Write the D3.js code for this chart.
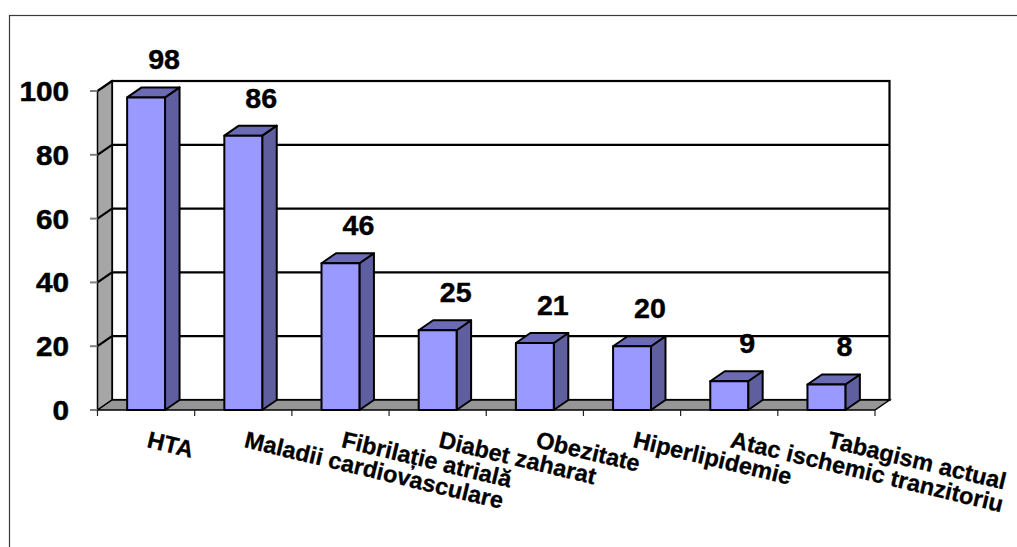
<!DOCTYPE html>
<html>
<head>
<meta charset="utf-8">
<script src="https://cdn.jsdelivr.net/npm/d3@7"></script>
<style>
  html, body { margin: 0; padding: 0; background: #fff; }
  svg { display: block; }
  text { font-family: "Liberation Sans", Arial, sans-serif; font-weight: bold; fill: #000; }
</style>
</head>
<body>
<svg id="chart" width="1017" height="547"></svg>
<script>
// Risk factors and number of patients
const categories = [
  "HTA",
  "Maladii cardiovasculare",
  "Fibrilație atrială",
  "Diabet zaharat",
  "Obezitate",
  "Hiperlipidemie",
  "Atac ischemic tranzitoriu",
  "Tabagism actual"
];
const values = [98, 86, 46, 25, 21, 20, 9, 8];
const yTicks = [0, 20, 40, 60, 80, 100];

const svg = d3.select("#chart");

// 3D projection: depth offset for walls and bars
const depthX = 14.5, depthY = -10;

const x = d3.scaleBand().domain(categories).range([97.5, 875]).paddingInner(0).paddingOuter(0);
const y = d3.scaleLinear().domain([0, 100]).range([410, 91]);

const xL = x.range()[0], xR = x.range()[1];
const y0 = y(0), yTop = y(100);

// outer frame
svg.append("rect")
  .attr("x", 9.5).attr("y", 15.5).attr("width", 1030).attr("height", 560)
  .attr("fill", "none").attr("stroke", "#3a3a3a").attr("stroke-width", 1.2);

// back wall
svg.append("rect")
  .attr("x", xL + depthX).attr("y", yTop + depthY)
  .attr("width", xR - xL).attr("height", y0 - yTop)
  .attr("fill", "#fff").attr("stroke", "#000").attr("stroke-width", 2.2);

// side wall
svg.append("polygon")
  .attr("points", [[xL, yTop], [xL + depthX, yTop + depthY], [xL + depthX, y0 + depthY], [xL, y0]].join(" "))
  .attr("fill", "#a6a6a6").attr("stroke", "#000").attr("stroke-width", 1.5);

// floor
svg.append("polygon")
  .attr("points", [[xL, y0], [xL + depthX, y0 + depthY], [xR + depthX, y0 + depthY], [xR, y0]].join(" "))
  .attr("fill", "#969696").attr("stroke", "#000").attr("stroke-width", 1.5);

// gridlines on the back and side walls
const grid = svg.append("g").attr("stroke", "#000").attr("stroke-width", 2.2).attr("fill", "none");
yTicks.filter(v => v > 0).forEach(v => {
  grid.append("line")
    .attr("x1", xL + depthX).attr("x2", xR + depthX)
    .attr("y1", y(v) + depthY).attr("y2", y(v) + depthY);
  grid.append("line")
    .attr("x1", xL).attr("x2", xL + depthX)
    .attr("y1", y(v)).attr("y2", y(v) + depthY);
});

// value axis: ticks and labels
const yAxis = svg.append("g");
yTicks.forEach(v => {
  yAxis.append("line")
    .attr("x1", xL - 7.5).attr("x2", xL)
    .attr("y1", y(v)).attr("y2", y(v))
    .attr("stroke", "#808080").attr("stroke-width", 2);
  yAxis.append("text")
    .attr("transform", `translate(69,${y(v)}) scale(1.08,1)`)
    .attr("text-anchor", "end")
    .attr("dy", "0.36em")
    .style("font-size", "27.5px")
    .style("stroke", "#000").style("stroke-width", 0.5)
    .text(v);
});

// category axis ticks
const xAxis = svg.append("g");
const edges = categories.map(c => x(c)).concat([xR]);
edges.forEach(e => {
  xAxis.append("line")
    .attr("x1", e).attr("x2", e)
    .attr("y1", y0).attr("y2", y0 + 6)
    .attr("stroke", "#222").attr("stroke-width", 1.2);
});

// category labels, rotated
categories.forEach(c => {
  xAxis.append("text")
    .attr("transform", `translate(${x(c) + x.bandwidth() / 2},447) rotate(13.5)`)
    .attr("text-anchor", "start")
    .style("font-size", "23.5px")
    .style("stroke", "#000").style("stroke-width", 0.3)
    .text(c);
});

// 3D bars
const barW = x.bandwidth() * 0.39;
const bars = svg.append("g").attr("stroke", "#000").attr("stroke-width", 2).attr("stroke-linejoin", "round");
categories.forEach((c, i) => {
  const cx = x(c) + x.bandwidth() / 2;
  const bx0 = cx - barW / 2, bx1 = cx + barW / 2;
  const by = y(values[i]);
  const g = bars.append("g");
  g.append("polygon")
    .attr("points", [[bx1, by], [bx1 + depthX, by + depthY], [bx1 + depthX, y0 + depthY], [bx1, y0]].join(" "))
    .attr("fill", "#5f5fa0");
  g.append("polygon")
    .attr("points", [[bx0, by], [bx0 + depthX, by + depthY], [bx1 + depthX, by + depthY], [bx1, by]].join(" "))
    .attr("fill", "#6b6bb3");
  g.append("rect")
    .attr("x", bx0).attr("y", by).attr("width", barW).attr("height", y0 - by)
    .attr("fill", "#9999ff");
});

// value labels above the bars
const labels = svg.append("g");
categories.forEach((c, i) => {
  const cx = x(c) + x.bandwidth() / 2;
  labels.append("text")
    .attr("transform", `translate(${cx + 18},${y(values[i]) + depthY - 18}) scale(1.06,1)`)
    .attr("text-anchor", "middle")
    .style("font-size", "27px")
    .style("stroke", "#000").style("stroke-width", 0.4)
    .text(values[i]);
});
</script>
</body>
</html>
